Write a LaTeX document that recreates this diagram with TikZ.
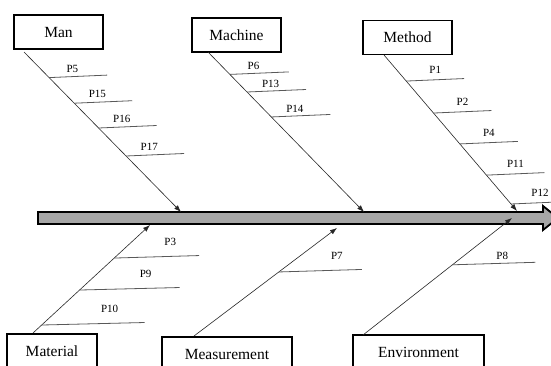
\documentclass[tikz,border=0pt]{standalone}
\usepackage{fontspec}
\setmainfont{Liberation Serif}
\usepackage{tikz}
\usetikzlibrary{calc,arrows.meta}

\tikzset{
  cause/.style={draw, line width=1.8pt, minimum height=34pt, inner sep=0pt,
    font=\fontsize{15.5}{18}\selectfont},
  bone/.style={-{Latex[length=7pt,width=5pt]}, line width=0.6pt, black!85},
  twig/.style={line width=0.8pt, black!65},
  lbl/.style={font=\fontsize{11}{13}\selectfont, inner sep=1pt, text=black}
}

\begin{document}
\begin{tikzpicture}[x=1pt, y=-1pt]
    \clip (0,0) rectangle (551,365);
    \fill[white] (0,0) rectangle (551,365);

    % spine
    \draw[line width=1.8pt, fill=black!35] (38,212) -- (543,212) -- (543,206)
      -- (558,218) -- (543,230) -- (543,224) -- (38,224) -- cycle;

    % cause boxes
    \node[cause, minimum width=89pt] (man) at (58.5,32) {Man};
    \node[cause, minimum width=89pt] (machine) at (236.5,35) {Machine};
    \node[cause, minimum width=89pt] (method) at (407.5,37.5) {Method};
    \node[cause, minimum width=90pt] (material) at (52,351) {Material};
    \node[cause, minimum width=130pt] (measure) at (227,354) {Measurement};
    \node[cause, minimum width=131pt] (environ) at (418.5,352) {Environment};

    % bone ends
    \coordinate (manS) at (24,52);      \coordinate (manE) at (181,212);
    \coordinate (machS) at (208,52);    \coordinate (machE) at (364,212);
    \coordinate (methS) at (384,55);    \coordinate (methE) at (517,211);
    \coordinate (matS) at (33,333);     \coordinate (matE) at (150,225);
    \coordinate (measS) at (194,336);   \coordinate (measE) at (337,228);
    \coordinate (envS) at (363,335);    \coordinate (envE) at (512,218);

    \draw[bone] (manS) -- (manE);
    \draw[bone] (machS) -- (machE);
    \draw[bone] (methS) -- (methE);
    \draw[bone] (matS) -- (matE);
    \draw[bone] (measS) -- (measE);
    \draw[bone] (envS) -- (envE);

    % upper twigs
    \foreach \t/\lab in {0.16/P5, 0.32/P15, 0.475/P16, 0.65/P17}
      \draw[twig] ($(manS)!\t!(manE)$) -- ++(58,-2.5)
        node[lbl, pos=0.4, above=3pt] (lbl-\lab) {\lab};
    \foreach \t/\lab in {0.14/P6, 0.25/P13, 0.406/P14}
      \draw[twig] ($(machS)!\t!(machE)$) -- ++(59,-2.5)
        node[lbl, pos=0.4, above=2pt] (lbl-\lab) {\lab};
    \foreach \t/\lab in {0.167/P1, 0.372/P2, 0.57/P4, 0.77/P11, 0.955/P12}
      \draw[twig] ($(methS)!\t!(methE)$) -- ++(58,-2.5)
        node[lbl, pos=0.5, above=5pt] (lbl-\lab) {\lab};

    % lower twigs
    \foreach \t/\len/\lab in {0.694/85/P3, 0.398/100/P9, 0.074/103/P10}
      \draw[twig] ($(matS)!\t!(matE)$) -- ++(\len,-2.5)
        node[lbl, pos=0.66, above=9pt] (lbl-\lab) {\lab};
    \draw[twig] ($(measS)!0.593!(measE)$) -- ++(83,-2.5)
      node[lbl, pos=0.7, above=9pt] (lbl-P7) {P7};
    \draw[twig] ($(envS)!0.6!(envE)$) -- ++(83,-2.5)
      node[lbl, pos=0.6, above=2pt] (lbl-P8) {P8};
\end{tikzpicture}
\end{document}
